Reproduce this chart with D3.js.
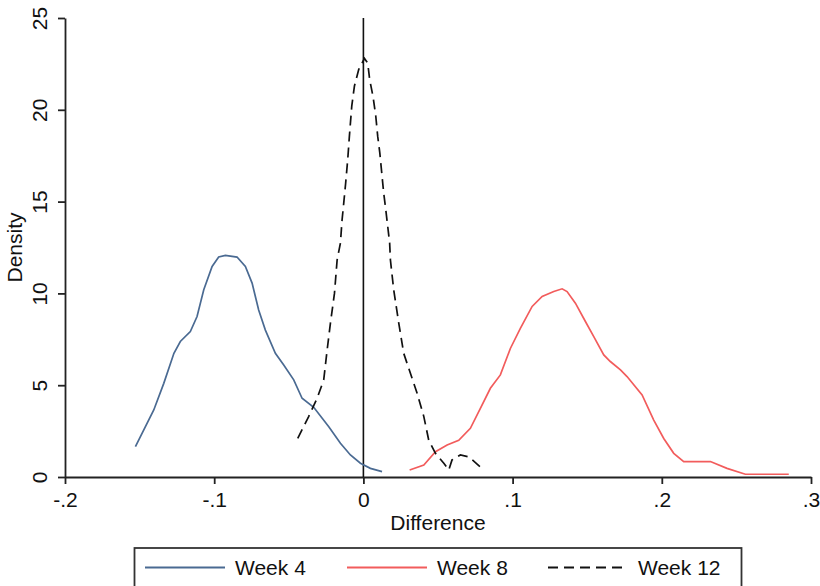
<!DOCTYPE html>
<html>
<head>
<meta charset="utf-8">
<script src="https://cdn.jsdelivr.net/npm/d3@7"></script>
<style>
  body { margin: 0; background: #fff; }
  text { font-family: "Liberation Sans", Arial, sans-serif; fill: #111; }
</style>
</head>
<body>
<div class="chart"></div>
<script>
// density curves: [difference, density]
const week4 = [
  [-0.1528, 1.65], [-0.1405, 3.65], [-0.1338, 5.1], [-0.127, 6.74], [-0.1227, 7.38],
  [-0.116, 7.92], [-0.1115, 8.74], [-0.107, 10.2], [-0.1014, 11.47], [-0.097, 11.98],
  [-0.0925, 12.07], [-0.0847, 11.98], [-0.0791, 11.47], [-0.0746, 10.56], [-0.0702, 9.1],
  [-0.0657, 8.0], [-0.059, 6.74], [-0.0534, 6.1], [-0.0467, 5.29], [-0.0411, 4.29],
  [-0.0333, 3.8], [-0.0232, 2.74], [-0.0154, 1.84], [-0.0087, 1.2], [-0.002, 0.75],
  [0.0047, 0.47], [0.0125, 0.29]
]
const week8 = [
  [0.031, 0.38], [0.0405, 0.65], [0.0483, 1.38], [0.0561, 1.74], [0.0639, 2.0],
  [0.0717, 2.65], [0.0784, 3.74], [0.0851, 4.83], [0.0918, 5.56], [0.0985, 7.0],
  [0.1052, 8.1], [0.1131, 9.29], [0.1198, 9.83], [0.1276, 10.1], [0.1332, 10.25],
  [0.1365, 10.1], [0.1421, 9.47], [0.1488, 8.47], [0.1544, 7.65], [0.1611, 6.65],
  [0.1655, 6.29], [0.1723, 5.83], [0.1767, 5.47], [0.1868, 4.47], [0.1946, 3.1],
  [0.2013, 2.1], [0.208, 1.29], [0.2147, 0.84], [0.2326, 0.84], [0.2437, 0.47],
  [0.256, 0.15], [0.2851, 0.15]
]
const week12 = [
  [-0.044, 2.1], [-0.0367, 3.29], [-0.031, 4.29], [-0.0266, 5.29], [-0.0243, 6.92],
  [-0.0221, 8.38], [-0.0194, 10.0], [-0.0176, 11.83], [-0.0154, 12.74], [-0.0143, 14.0],
  [-0.0132, 14.9], [-0.0119, 16.0], [-0.0105, 17.3], [-0.0094, 18.55], [-0.0078, 20.2],
  [-0.006, 21.3], [-0.0031, 22.2], [0.0007, 22.8], [0.0029, 22.55], [0.0042, 21.65],
  [0.0065, 20.7], [0.0083, 19.65], [0.0096, 18.55], [0.011, 17.65], [0.0123, 16.56],
  [0.0136, 15.47], [0.015, 14.56], [0.0163, 13.65], [0.0176, 12.74], [0.0181, 11.83],
  [0.0203, 10.2], [0.0237, 8.38], [0.027, 6.74], [0.0315, 5.65], [0.036, 4.56],
  [0.0405, 3.29], [0.0438, 2.0], [0.0483, 1.29], [0.0539, 0.75], [0.0572, 0.38],
  [0.0594, 0.93], [0.065, 1.2], [0.0706, 1.1], [0.0795, 0.47]
]
const xTicks = [-0.2, -0.1, 0, 0.1, 0.2, 0.3]
const xTickLabels = ["-.2", "-.1", "0", ".1", ".2", ".3"]
const yTicks = [0, 5, 10, 15, 20, 25]
const seriesNames = ["Week 4", "Week 8", "Week 12"]

const W = 820, H = 586
const margin = ({top: 18, right: 9, bottom: 109, left: 65})
const width = W - margin.left - margin.right,
  height = H - margin.top - margin.bottom

const svg = d3.select(".chart").append("svg")
  .attr("width", W)
  .attr("height", H)
  .style("font-size", "21px")

const g = svg.append("g")
  .attr("transform", "translate(" + margin.left + "," + margin.top + ")")

const xScale = d3.scaleLinear().domain([-0.2, 0.3]).range([0, width])
const yScale = d3.scaleLinear().domain([0, 25]).range([height, 0])

const xAxis = d3.axisBottom(xScale)
  .tickValues(xTicks)
  .tickFormat((d, i) => xTickLabels[i])
  .tickSize(7)
  .tickSizeOuter(0)

const xg = g.append("g")
  .attr("class", "axis x-axis")
  .attr("transform", `translate(0, ${height})`)
  .call(xAxis)
xg.selectAll("text").attr("dy", "0.95em").style("font-size", "21px").attr("fill", "#111")

const yAxis = d3.axisLeft(yScale)
  .tickValues(yTicks)
  .tickSize(7)
  .tickSizeOuter(0)

const yg = g.append("g")
  .attr("class", "axis y-axis")
  .call(yAxis)
yg.selectAll("text")
  .attr("x", null).attr("dy", null)
  .attr("text-anchor", "middle")
  .attr("transform", "translate(-18,0) rotate(-90)")
  .style("font-size", "21px")
  .attr("fill", "#111")

svg.selectAll(".axis path, .axis line")
  .attr("stroke", "#222")
  .attr("stroke-width", 1.8)

// vertical reference line at 0
g.append("line")
  .attr("x1", xScale(0)).attr("x2", xScale(0))
  .attr("y1", yScale(25)).attr("y2", yScale(0))
  .attr("stroke", "#111")
  .attr("stroke-width", 1.6)

const line = d3.line()
  .x(d => xScale(d[0]))
  .y(d => yScale(d[1]))

const styles = [
  {color: "#4a6a92", dash: null},
  {color: "#f25c5c", dash: null},
  {color: "#111", dash: "10,6"}
]

;[week4, week8, week12].forEach((s, i) => {
  g.append("path")
    .datum(s)
    .attr("fill", "none")
    .attr("stroke", styles[i].color)
    .attr("stroke-width", 1.7)
    .attr("stroke-dasharray", styles[i].dash)
    .attr("d", line)
})

// axis titles
svg.append("text")
  .attr("x", margin.left + width / 2)
  .attr("y", 530)
  .attr("text-anchor", "middle")
  .text("Difference")

svg.append("text")
  .attr("transform", `translate(22, ${margin.top + height / 2}) rotate(-90)`)
  .attr("text-anchor", "middle")
  .text("Density")

// legend
const legend = svg.append("g")
svg.append("rect")
  .attr("x", 134.5).attr("y", 548)
  .attr("width", 607).attr("height", 44)
  .attr("fill", "none")
  .attr("stroke", "#333")
  .attr("stroke-width", 1.8)

const legendX = [145, 347, 548]
seriesNames.forEach((name, i) => {
  legend.append("line")
    .attr("x1", legendX[i]).attr("x2", legendX[i] + 80)
    .attr("y1", 567.5).attr("y2", 567.5)
    .attr("stroke", styles[i].color)
    .attr("stroke-width", 1.8)
    .attr("stroke-dasharray", styles[i].dash)
  legend.append("text")
    .attr("x", legendX[i] + 90)
    .attr("y", 567.5)
    .attr("dy", "0.36em")
    .text(name)
})
</script>
</body>
</html>
